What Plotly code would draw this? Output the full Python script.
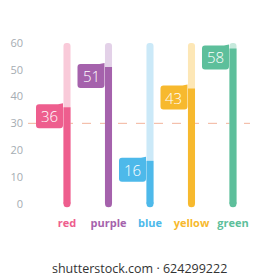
import plotly.graph_objects as go

categories = ["red", "purple", "blue", "yellow", "green"]
values = [36, 51, 16, 43, 58]
track_max = [60, 60, 60, 60, 60]
colors = ["#EE5E8E", "#A562AC", "#4DB9EA", "#F7B92E", "#5DBF9B"]
light_colors = ["#F9CAD9", "#E3D1E8", "#CBE9F8", "#FDE7B6", "#C6E9DC"]
ref_value = 30
y_ticks = [0, 10, 20, 30, 40, 50, 60]
watermark = "shutterstock.com · 624299222"

xs = list(range(len(categories)))
fig = go.Figure()

fig.add_trace(go.Bar(x=xs, y=track_max, width=0.17,
                     marker=dict(color=light_colors, cornerradius="50%", line=dict(width=0)),
                     hoverinfo="skip", showlegend=False))
fig.add_trace(go.Bar(x=xs, y=values, width=0.17,
                     marker=dict(color=colors, cornerradius="50%", line=dict(width=0)),
                     showlegend=False))
fig.add_trace(go.Scatter(x=xs, y=[0] * len(xs), mode="markers",
                         marker=dict(color=colors, size=7, line=dict(width=0)),
                         hoverinfo="skip", showlegend=False))

fig.add_shape(type="line", xref="paper", x0=0, x1=1, yref="y", y0=ref_value, y1=ref_value,
              line=dict(color="#F2B49C", width=1, dash="dash"), layer="below")

# label boxes (pixel-sized paths anchored at bar tops)
L, R, T, B, r = -31, -4, 3, -21, 3
box_path = (f"M {L+r},{T} L {R-5},{T} L {R},{T+1} L {R},{B+r} Q {R},{B} {R-r},{B} "
            f"L {L+r},{B} Q {L},{B} {L},{B+r} L {L},{T-r} Q {L},{T} {L+r},{T} Z")
for i, v in enumerate(values):
    fig.add_shape(type="path", xref="x", yref="y", xsizemode="pixel", ysizemode="pixel",
                  xanchor=i, yanchor=v, path=box_path,
                  fillcolor=colors[i], line=dict(width=0))
    fig.add_annotation(x=i, y=v, xref="x", yref="y", text=str(v), showarrow=False,
                       xshift=-17.5, yshift=-9,
                       font=dict(family="Open Sans", size=15, color="white", weight=300))

fig.add_annotation(x=0.5, y=-0.4, xref="paper", yref="paper", text=watermark, showarrow=False,
                   font=dict(family="Open Sans", size=12.5, color="#333333"))

ticktext = [f"<span style='color:{c}'><b>{n}</b></span>" for n, c in zip(categories, colors)]

fig.update_layout(
    width=260, height=280,
    margin=dict(l=28, r=10, t=35, b=71),
    paper_bgcolor="white", plot_bgcolor="white",
    barmode="overlay",
    font=dict(family="Open Sans"),
    xaxis=dict(range=[-0.94, 4.41], tickvals=xs, ticktext=ticktext,
               showgrid=False, zeroline=False, showline=False, ticks="",
               tickfont=dict(size=11), ticklabelstandoff=6),
    yaxis=dict(range=[-2, 63], tickvals=y_ticks, showgrid=False, zeroline=False,
               showline=False, ticks="", tickfont=dict(size=11, color="#A5ACB2"),
               ticklabelstandoff=4),
)

fig.write_html("out.html")
